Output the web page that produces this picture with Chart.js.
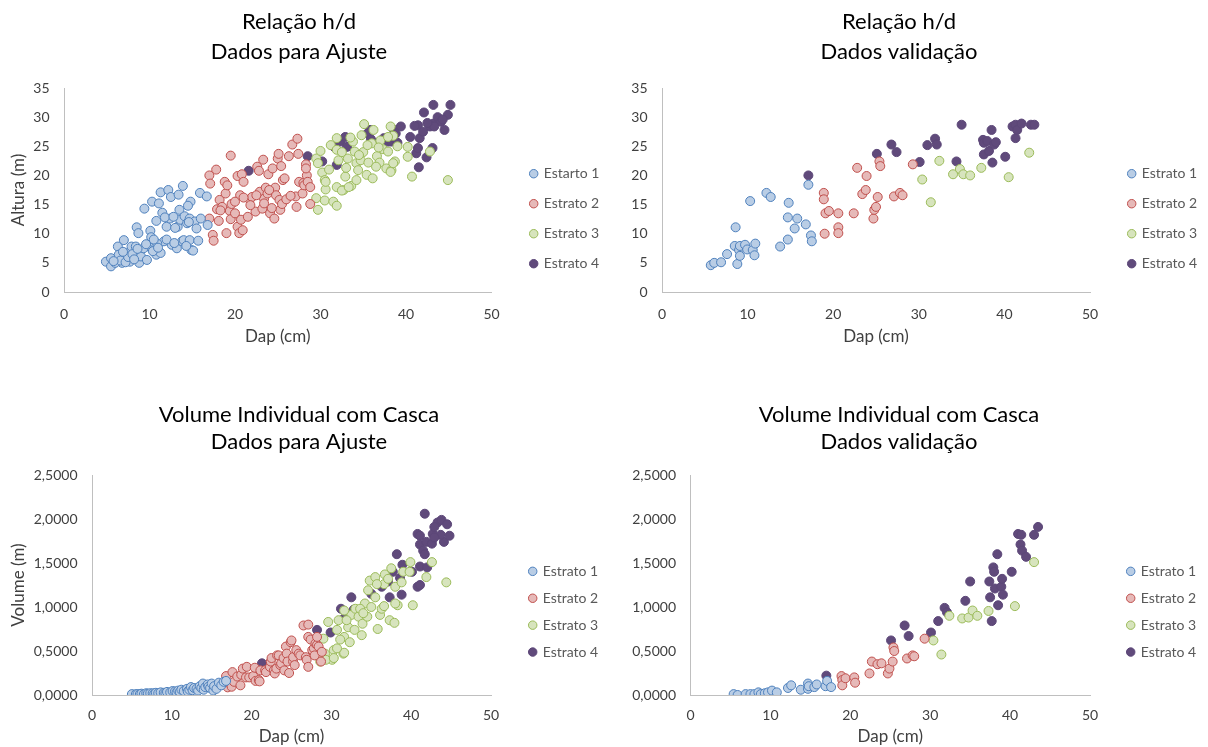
<!DOCTYPE html>
<html>
<head>
<meta charset="utf-8">
<script src="https://cdn.jsdelivr.net/npm/chart.js@4.4.0/dist/chart.umd.min.js"></script>
<style>
  html, body { margin: 0; padding: 0; background: #fff; }
  .box { position: absolute; }
</style>
</head>
<body>
<div class="box" style="left:0;top:0;width:604px;height:370px"><canvas id="hdAjuste"></canvas></div>
<div class="box" style="left:604px;top:0;width:604px;height:370px"><canvas id="hdValid"></canvas></div>
<div class="box" style="left:0;top:370px;width:604px;height:377px"><canvas id="volAjuste"></canvas></div>
<div class="box" style="left:604px;top:370px;width:604px;height:377px"><canvas id="volValid"></canvas></div>
<script>
// nomes das séries
const namesAjusteHd = ['Estarto 1', 'Estrato 2', 'Estrato 3', 'Estrato 4'];
const names = ['Estrato 1', 'Estrato 2', 'Estrato 3', 'Estrato 4'];

// ticks
const xTicks = [0, 10, 20, 30, 40, 50];
const hdTicks = [0, 5, 10, 15, 20, 25, 30, 35];
const volTicks = ['0,0000', '0,5000', '1,0000', '1,5000', '2,0000', '2,5000'];

// Relação h/d - Dados para Ajuste  [dap, altura]
const hdA1 = [[4.9,5.2],[5.5,4.4],[5.5,5.8],[6.3,7.8],[6.4,6.4],[6.8,5.0],[7.0,8.9],[7.3,6.7],[7.7,5.2],[7.9,7.8],[8.4,7.8],[8.5,11.1],[8.7,10.1],[8.8,5.0],[9.0,7.2],[9.0,6.1],[9.4,14.3],[9.7,5.5],[9.9,7.8],[10.1,10.5],[10.2,9.4],[10.3,15.5],[10.6,8.4],[10.8,6.4],[10.8,12.2],[11.1,15.2],[11.3,17.1],[11.3,6.7],[11.5,13.6],[11.7,8.7],[12.0,11.2],[12.2,17.5],[12.4,12.6],[12.5,16.3],[12.6,8.1],[13.2,7.5],[13.3,11.2],[13.4,16.7],[13.5,14.1],[13.6,12.4],[13.8,8.7],[13.9,18.2],[14.0,8.9],[14.1,13.0],[14.4,11.8],[14.7,12.6],[14.7,8.9],[14.8,15.5],[14.9,7.2],[15.1,7.1],[15.3,12.1],[15.5,10.9],[15.7,8.8],[15.9,17.0],[16.0,12.6],[16.7,16.4],[16.8,11.5],[6.0,5.0],[6.6,5.4],[7.2,5.1],[7.5,6.0],[8.0,6.5],[8.2,5.6],[9.3,7.5],[9.6,8.2],[10.4,7.0],[10.9,8.3],[11.8,12.8],[12.8,12.9],[13.0,11.0],[14.3,7.9],[14.6,12.0],[12.0,9.0],[10.5,9.0],[5.8,5.3],[6.9,6.9],[8.6,7.4],[11.0,7.6],[14.5,14.8],[12.9,8.4]];
const hdA2 = [[17.0,12.6],[17.0,20.0],[17.1,18.6],[17.4,9.8],[17.5,8.8],[17.8,21.0],[17.9,14.2],[18.1,12.2],[18.2,15.8],[18.5,14.6],[18.8,18.9],[18.9,16.9],[19.0,10.1],[19.1,18.3],[19.4,13.9],[19.5,23.4],[19.5,12.5],[19.6,15.1],[20.0,13.5],[20.3,19.9],[20.3,11.2],[20.5,10.1],[20.6,16.6],[20.7,12.4],[20.8,20.2],[20.9,10.6],[21.0,18.9],[21.5,12.9],[21.7,15.9],[22.0,16.3],[22.4,13.8],[22.6,21.5],[22.9,17.2],[23.2,14.3],[23.3,22.7],[23.4,16.0],[23.6,17.9],[23.8,16.9],[23.9,20.2],[24.1,13.5],[24.4,21.2],[24.6,12.6],[24.7,17.9],[24.8,16.6],[25.0,22.9],[25.1,23.7],[25.2,15.8],[25.3,14.1],[25.4,21.6],[25.5,15.1],[25.6,19.2],[26.0,15.9],[26.3,23.3],[26.7,25.3],[27.1,16.4],[27.2,14.6],[27.3,26.3],[27.4,23.7],[27.5,18.9],[27.9,16.9],[28.0,18.7],[28.1,18.3],[28.3,21.9],[28.4,20.0],[28.5,18.9],[28.8,18.0],[28.8,15.1],[28.3,21.2],[21.0,16.2],[22.5,16.6],[24.0,17.5],[26.5,16.5],[25.8,19.5],[24.3,14.4],[21.8,14.9],[23.4,15.2],[20.0,15.5],[18.3,14.0],[22.8,20.8]];
const hdA3 = [[29.5,22.9],[30.0,24.2],[29.7,22.1],[30.2,20.5],[30.5,19.2],[30.6,17.6],[29.5,16.1],[29.7,14.1],[30.5,15.7],[31.2,25.2],[31.9,26.4],[31.9,24.4],[32.1,22.6],[31.9,18.0],[31.5,15.5],[31.9,14.8],[32.7,17.5],[32.9,19.8],[33.2,22.9],[33.6,18.2],[34.0,24.1],[34.2,22.1],[34.2,19.2],[34.4,20.9],[34.7,22.6],[34.8,26.9],[35.1,28.8],[35.4,20.1],[35.6,22.2],[36.1,19.5],[36.2,27.8],[36.6,23.3],[36.9,22.2],[37.3,24.5],[37.7,21.2],[37.9,24.1],[38.2,28.4],[38.3,20.9],[38.7,22.4],[40.2,24.9],[40.2,23.2],[40.7,19.8],[44.9,19.2],[42.8,24.1],[33.0,21.3],[35.0,24.0],[36.0,25.5],[37.0,26.0],[38.5,26.8],[31.0,21.0],[32.5,24.0],[33.8,25.8],[36.5,21.5],[30.6,18.9],[32.5,17.4],[33.3,18.0],[35.5,25.2],[38.2,20.6],[38.5,22.1],[37.9,26.6],[34.5,23.5],[36.8,24.8],[39.0,25.0],[33.5,26.5]];
const hdA4 = [[21.6,20.8],[28.5,23.3],[30.2,22.4],[31.9,21.8],[31.6,24.9],[32.3,25.8],[32.9,26.6],[33.1,24.9],[35.8,27.8],[35.5,27.2],[36.6,25.6],[37.4,26.4],[37.9,25.8],[38.6,27.8],[38.3,25.8],[39.0,25.6],[39.4,28.4],[40.5,26.6],[41.4,28.6],[41.6,26.4],[42.1,30.8],[42.0,27.5],[43.2,32.1],[43.2,28.9],[43.7,30.0],[44.1,29.2],[44.5,27.8],[44.9,30.4],[45.2,32.1],[41.2,23.8],[42.4,23.1],[43.1,24.7],[41.5,21.4],[41.4,24.7],[41.0,28.5],[42.8,28.4],[43.3,28.4],[38.8,27.2],[42.5,29.0],[44.3,29.6],[35.9,26.2]];

// Relação h/d - Dados validação
const hdV1 = [[5.7,4.6],[6.1,5.0],[6.9,5.1],[7.6,6.5],[8.5,7.9],[8.6,11.1],[8.8,4.8],[9.0,7.2],[9.1,6.2],[9.1,7.9],[9.7,8.1],[9.95,7.3],[10.3,15.6],[10.6,7.2],[10.8,6.3],[10.9,8.3],[12.2,17.0],[12.7,16.3],[13.8,7.8],[14.7,9.0],[14.7,12.8],[14.8,15.3],[15.5,10.9],[15.8,12.6],[16.8,11.6],[17.1,18.4],[17.4,9.7],[17.5,8.7]];
const hdV2 = [[18.9,17.0],[18.9,15.9],[19.0,10.0],[19.1,13.5],[19.5,13.9],[20.6,13.5],[20.6,11.1],[20.6,10.1],[22.4,13.5],[22.8,21.3],[23.4,16.8],[23.8,17.5],[23.9,19.9],[24.7,12.6],[24.8,14.1],[25.0,14.6],[25.2,16.3],[25.4,22.4],[25.5,21.6],[27.1,16.4],[27.8,17.0],[28.1,16.6],[29.3,21.9]];
const hdV3 = [[30.4,19.3],[31.4,15.4],[32.4,22.5],[34.0,20.2],[34.8,21.1],[35.2,20.2],[36.0,20.0],[37.3,21.3],[40.5,19.7],[42.9,23.9]];
const hdV4 = [[17.1,20.0],[25.1,23.7],[26.8,25.3],[27.4,24.0],[30.1,22.3],[31.0,25.2],[31.9,26.3],[32.1,25.3],[34.4,22.4],[35.0,28.7],[37.5,26.1],[37.6,25.6],[37.6,23.6],[38.0,25.9],[38.2,24.2],[38.5,27.8],[38.6,22.2],[38.8,25.3],[39.0,25.7],[40.1,23.2],[40.95,28.4],[41.3,28.7],[41.3,26.4],[41.5,27.8],[42.0,28.9],[43.1,28.7],[43.5,28.7]];

// Volume Individual com Casca - Dados para Ajuste  [dap, volume]
const volA1 = [[5.0,0.01],[5.5,0.01],[5.7,0.01],[6.0,0.01],[6.2,0.015],[6.5,0.01],[6.8,0.02],[7.0,0.015],[7.3,0.02],[7.6,0.02],[7.8,0.015],[8.0,0.025],[8.3,0.02],[8.6,0.03],[9.0,0.025],[9.2,0.02],[9.4,0.035],[9.8,0.03],[10.1,0.045],[10.4,0.04],[10.6,0.03],[10.8,0.05],[11.0,0.035],[11.2,0.06],[11.5,0.045],[11.9,0.07],[12.0,0.04],[12.2,0.06],[12.4,0.09],[12.6,0.055],[12.8,0.08],[13.1,0.07],[13.3,0.05],[13.5,0.10],[13.7,0.08],[13.9,0.13],[14.0,0.06],[14.2,0.09],[14.5,0.12],[14.6,0.095],[14.8,0.08],[15.0,0.13],[15.2,0.05],[15.3,0.10],[15.6,0.07],[15.9,0.14],[16.2,0.11],[16.5,0.15],[16.8,0.16]];
const volA2 = [[16.8,0.215],[17.0,0.087],[17.3,0.13],[17.5,0.094],[17.6,0.26],[17.8,0.15],[18.2,0.21],[18.6,0.11],[18.7,0.23],[18.9,0.30],[19.3,0.20],[19.4,0.32],[19.7,0.20],[20.2,0.215],[20.4,0.31],[20.5,0.16],[20.9,0.17],[21.0,0.155],[21.1,0.28],[21.7,0.28],[21.8,0.26],[22.3,0.32],[22.4,0.38],[22.5,0.42],[22.8,0.28],[22.9,0.245],[23.1,0.30],[23.2,0.45],[23.4,0.45],[23.6,0.34],[23.7,0.36],[24.0,0.42],[24.1,0.28],[24.3,0.55],[24.4,0.47],[24.5,0.38],[24.7,0.25],[24.9,0.60],[25.0,0.62],[25.2,0.38],[25.2,0.43],[25.4,0.34],[25.6,0.51],[25.9,0.47],[26.1,0.45],[26.5,0.79],[26.8,0.43],[26.9,0.40],[27.1,0.80],[27.1,0.32],[27.1,0.66],[27.4,0.63],[27.6,0.51],[27.8,0.53],[27.9,0.45],[28.0,0.585],[28.2,0.57],[28.2,0.66],[28.4,0.55],[28.7,0.38],[28.8,0.49]];
const volA3 = [[28.6,0.38],[29.2,0.47],[29.0,0.64],[29.6,0.83],[30.3,0.51],[30.1,0.40],[30.7,0.74],[30.9,0.85],[31.5,0.47],[31.6,0.66],[32.1,0.77],[32.3,0.60],[32.5,0.91],[33.0,0.98],[33.4,0.89],[33.8,0.68],[33.9,0.81],[34.2,1.04],[34.5,0.89],[34.8,1.30],[35.0,1.00],[35.5,1.11],[35.8,0.75],[36.1,0.91],[36.3,0.98],[36.6,1.01],[36.7,1.37],[37.3,0.85],[37.5,1.44],[37.9,0.82],[38.0,1.23],[38.3,1.02],[38.8,1.28],[39.0,1.40],[39.9,1.51],[40.2,1.02],[41.9,1.34],[42.6,1.51],[44.4,1.28],[39.8,1.40],[35.5,1.34],[34.6,1.19],[36.6,1.26],[37.1,1.32],[33.6,0.98],[31.6,0.96],[31.9,0.85],[32.9,0.74],[34.0,0.93],[38.0,1.04],[35.7,1.26],[29.3,0.40],[30.3,0.42],[31.6,0.48],[30.7,0.53],[31.1,0.63]];
const volA4 = [[21.3,0.36],[28.2,0.74],[29.9,0.71],[31.2,0.98],[32.5,1.11],[31.6,0.87],[32.8,0.97],[35.0,1.15],[35.4,1.31],[36.3,1.23],[37.1,1.29],[37.3,1.11],[37.7,1.40],[38.2,1.60],[38.6,1.33],[38.8,1.14],[38.9,1.48],[40.1,1.40],[40.8,1.23],[41.1,1.25],[41.1,1.46],[42.0,1.45],[40.8,1.83],[41.1,1.81],[41.1,1.71],[41.5,1.64],[41.7,1.60],[41.7,2.06],[41.9,1.74],[42.7,1.83],[42.6,1.72],[43.3,1.96],[43.8,1.99],[44.1,1.74],[44.5,1.94],[44.8,1.81],[43.7,1.82],[42.9,1.91],[42.9,1.79]];

// Volume Individual com Casca - Dados validação
const volV1 = [[5.4,0.01],[5.9,0.0],[6.9,0.01],[7.5,0.01],[8.0,0.01],[8.5,0.03],[8.8,0.01],[9.3,0.02],[9.7,0.03],[10.2,0.05],[10.8,0.03],[12.2,0.08],[12.6,0.11],[13.8,0.06],[14.7,0.13],[14.7,0.07],[14.8,0.10],[15.5,0.09],[15.8,0.12],[16.9,0.10],[17.1,0.16],[17.6,0.09]];
const volV2 = [[18.9,0.215],[19.0,0.17],[19.0,0.11],[19.4,0.19],[20.5,0.20],[20.6,0.14],[22.4,0.245],[22.7,0.38],[23.4,0.35],[23.9,0.36],[24.7,0.245],[24.9,0.30],[25.3,0.38],[25.4,0.54],[25.5,0.50],[27.1,0.415],[27.8,0.45],[28.0,0.44],[29.3,0.64]];
const volV3 = [[30.4,0.62],[31.4,0.46],[32.4,0.90],[34.0,0.87],[34.8,0.88],[35.3,0.96],[35.9,0.90],[37.3,0.955],[40.6,1.01],[43.0,1.51]];
const volV4 = [[17.0,0.22],[25.1,0.62],[26.8,0.79],[27.3,0.67],[30.1,0.71],[31.0,0.84],[31.8,0.99],[32.1,0.94],[34.4,1.07],[35.0,1.29],[37.4,1.29],[37.5,1.11],[37.7,0.84],[37.9,1.45],[38.0,1.40],[38.1,1.21],[38.4,1.60],[38.5,1.02],[38.9,1.23],[39.0,1.32],[39.1,1.14],[40.2,1.40],[41.0,1.83],[41.3,1.71],[41.5,1.64],[41.4,1.82],[42.0,1.57],[43.0,1.82],[43.5,1.91]];

const fills = ['#b9cde5', '#e6b9b8', '#d7e4bd', '#604a7b'];
const borders = ['#4f81bd', '#c0504d', '#9bbb59', '#5c4778'];
const FONT = 'Lato, "Noto Sans", sans-serif';

// posiciona legenda e título como no Excel
const boxPlace = {
  id: 'boxPlace',
  afterLayout(chart, args, o) {
    const l = chart.legend;
    if (l && o.legX != null) {
      l.left = o.legX; l.right = o.legX + 130;
      l.top = o.legY - 100; l.bottom = o.legY + 100;
    }
    const t = chart.titleBlock;
    if (t && o.titleX != null) {
      t.left = o.titleX - 250; t.right = o.titleX + 250;
    }
  }
};

function makeChart(id, c) {
  return new Chart(document.getElementById(id), {
    type: 'scatter',
    data: {
      datasets: c.series.map((pts, i) => ({
        label: c.names[i],
        data: pts.map(p => ({ x: p[0], y: p[1] })),
        backgroundColor: fills[i],
        borderColor: borders[i],
        borderWidth: 1,
        pointRadius: 4.5,
        pointHoverRadius: 4.5,
        pointStyle: 'circle'
      }))
    },
    plugins: [boxPlace],
    options: {
      responsive: true,
      maintainAspectRatio: false,
      animation: false,
      layout: { padding: { left: 0, top: 0, right: c.padRight, bottom: c.padBottom } },
      plugins: {
        boxPlace: { legX: c.legX, legY: c.legY, titleX: c.titleX },
        tooltip: { enabled: false },
        title: {
          display: true,
          text: c.title,
          color: '#000',
          font: { family: FONT, size: 22, weight: 'normal', lineHeight: c.titleLH / 22 },
          padding: { top: c.titleTop, bottom: c.titleBottom }
        },
        legend: {
          position: 'chartArea',
          labels: {
            usePointStyle: true,
            boxWidth: 6,
            boxHeight: 6,
            padding: c.legPad,
            color: '#595959',
            font: { family: FONT, size: 14 }
          }
        }
      },
      scales: {
        x: {
          type: 'linear',
          min: 0, max: 50,
          afterBuildTicks: s => { s.ticks = xTicks.map(v => ({ value: v })); },
          afterFit: s => { s.height = c.xH; },
          grid: { display: false, drawTicks: false },
          border: { display: true, color: '#bfbfbf', width: 1 },
          ticks: { padding: c.xPad, color: '#404040', font: { family: FONT, size: 14 } },
          title: {
            display: true, text: 'Dap (cm)', color: '#404040',
            font: { family: FONT, size: 17 }, padding: { top: 0, bottom: 0 }
          }
        },
        y: {
          type: 'linear',
          min: 0, max: c.yMax,
          afterBuildTicks: s => { s.ticks = c.yTicks.map(v => ({ value: v })); },
          afterFit: s => { s.width = c.yW; },
          grid: { display: false, drawTicks: false },
          border: { display: true, color: '#bfbfbf', width: 1 },
          ticks: {
            padding: 14.5, color: '#404040', font: { family: FONT, size: 14 },
            callback: c.yFmt
          },
          title: {
            display: !!c.yTitle, text: c.yTitle || '', color: '#404040',
            font: { family: FONT, size: 17 }, padding: { top: 8, bottom: 0 }
          }
        }
      }
    }
  });
}

const hdFmt = v => String(v);
const volFmt = v => volTicks[Math.round(v / 0.5)];
const volVals = [0, 0.5, 1, 1.5, 2, 2.5];

makeChart('hdAjuste', {
  series: [hdA1, hdA2, hdA3, hdA4], names: namesAjusteHd,
  title: ['Relação h/d', 'Dados para Ajuste'], titleX: 299, titleLH: 29.5, titleTop: 7.5, titleBottom: 21.5,
  yMax: 35, yTicks: hdTicks, yFmt: hdFmt, yTitle: 'Altura (m)', yW: 64,
  xH: 55, xPad: 14, padRight: 112.5, padBottom: 23, legX: 514.7, legY: 218.7, legPad: 16
});
makeChart('hdValid', {
  series: [hdV1, hdV2, hdV3, hdV4], names: names,
  title: ['Relação h/d', 'Dados validação'], titleX: 295, titleLH: 29.5, titleTop: 7.5, titleBottom: 21.5,
  yMax: 35, yTicks: hdTicks, yFmt: hdFmt, yTitle: '', yW: 58,
  xH: 55, xPad: 14, padRight: 118, padBottom: 23, legX: 508.7, legY: 218.7, legPad: 16
});
makeChart('volAjuste', {
  series: [volA1, volA2, volA3, volA4], names: names,
  title: ['Volume Individual com Casca', 'Dados para Ajuste'], titleX: 299, titleLH: 26.7, titleTop: 31.6, titleBottom: 20,
  yMax: 2.5, yTicks: volVals, yFmt: volFmt, yTitle: 'Volume (m)', yW: 92,
  xH: 52, xPad: 12.5, padRight: 113, padBottom: 0, legX: 516.8, legY: 241.7, legPad: 12.9
});
makeChart('volValid', {
  series: [volV1, volV2, volV3, volV4], names: names,
  title: ['Volume Individual com Casca', 'Dados validação'], titleX: 295, titleLH: 26.7, titleTop: 31.6, titleBottom: 20,
  yMax: 2.5, yTicks: volVals, yFmt: volFmt, yTitle: '', yW: 86.5,
  xH: 52, xPad: 12.5, padRight: 118, padBottom: 0, legX: 510.8, legY: 241.7, legPad: 12.9
});
</script>
</body>
</html>
